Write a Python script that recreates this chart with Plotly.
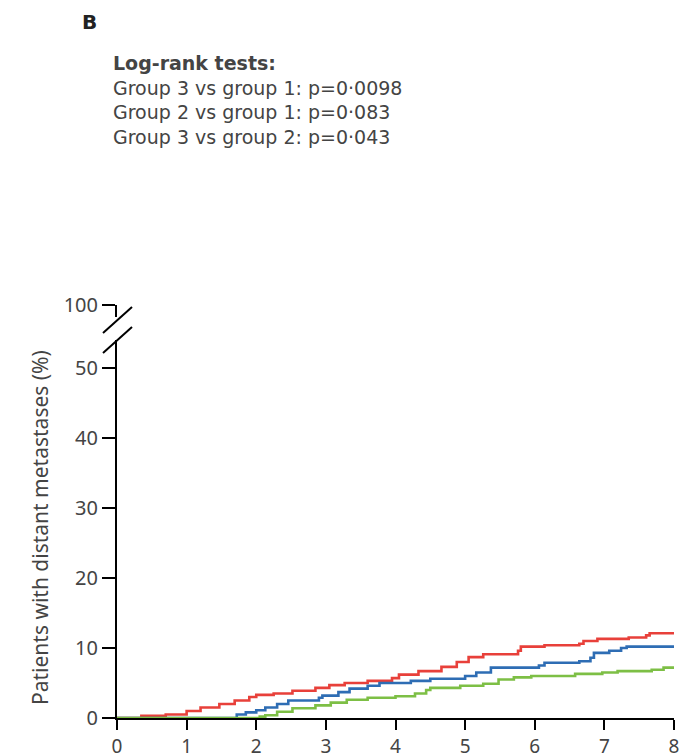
import plotly.graph_objects as go

# ---- data ----
red_t = [0, 0.35, 0.7, 1.0, 1.2, 1.47, 1.69, 1.9, 2.0, 2.25, 2.52, 2.85, 3.05, 3.27, 3.6, 3.95, 4.05,
         4.33, 4.66, 4.88, 5.05, 5.26, 5.76, 5.8, 6.14, 6.64, 6.7, 6.9, 7.35, 7.6, 7.65, 8.0]
red_v = [0, 0.3, 0.5, 1.0, 1.5, 2.0, 2.5, 3.0, 3.3, 3.5, 3.9, 4.3, 4.7, 5.0, 5.3, 5.7, 6.2,
         6.7, 7.3, 8.0, 8.7, 9.1, 9.6, 10.2, 10.4, 10.6, 11.0, 11.3, 11.5, 11.8, 12.1, 12.1]

blue_t = [0, 1.72, 1.85, 2.0, 2.13, 2.3, 2.46, 2.9, 2.95, 3.18, 3.34, 3.6, 3.77, 4.22, 4.5, 5.0,
          5.16, 5.37, 6.06, 6.14, 6.64, 6.8, 6.85, 7.07, 7.24, 7.32, 8.0]
blue_v = [0, 0.5, 0.8, 1.1, 1.5, 2.0, 2.5, 2.9, 3.2, 3.7, 4.2, 4.6, 5.0, 5.3, 5.6, 6.0,
          6.5, 7.2, 7.5, 7.9, 8.1, 8.6, 9.3, 9.6, 10.0, 10.2, 10.2]

green_t = [0, 2.05, 2.13, 2.3, 2.52, 2.85, 3.07, 3.3, 3.6, 4.0, 4.28, 4.44, 4.5, 4.93, 5.26, 5.48,
           5.7, 5.95, 6.58, 6.97, 7.19, 7.68, 7.85, 8.0]
green_v = [0, 0.2, 0.4, 0.9, 1.4, 1.8, 2.2, 2.6, 2.9, 3.1, 3.5, 4.0, 4.3, 4.6, 4.9, 5.5,
           5.8, 6.0, 6.3, 6.5, 6.7, 6.9, 7.2, 7.3]

x_ticks = [0, 1, 2, 3, 4, 5, 6, 7, 8]
y_ticks = [0, 10, 20, 30, 40, 50]
y_top_tick = [100]

panel_label = "B"
test_title = "Log-rank tests:"
test_lines = ["Group 3 vs group 1: p=0·0098",
              "Group 2 vs group 1: p=0·083",
              "Group 3 vs group 2: p=0·043"]
y_title = "Patients with distant metastases (%)"

RED, BLUE, GREEN = "#e8403a", "#2e6db4", "#7dbf45"
TXT = "#444444"
FONT = "Noto Sans"
TFONT = "DejaVu Sans"

# plot area in reference pixels
L, R, T, B = 117, 674, 305, 718
W, H = R - L, B - T
OFF = 8  # page body offset
def px(x):
    return (x - L) / W
def py(y):
    return (B - y) / H

fig = go.Figure()
for t, v, c in [(red_t, red_v, RED), (blue_t, blue_v, BLUE), (green_t, green_v, GREEN)]:
    fig.add_trace(go.Scatter(x=t, y=v, mode="lines", line=dict(color=c, width=2.6, shape="hv"),
                             showlegend=False, hoverinfo="skip", xaxis="x", yaxis="y"))
# invisible trace for upper axis
fig.add_trace(go.Scatter(x=[0], y=[100], mode="markers", marker=dict(opacity=0),
                         showlegend=False, hoverinfo="skip", xaxis="x", yaxis="y2"))

axis_common = dict(showgrid=False, zeroline=False, showline=True, linecolor="black", linewidth=2,
                   ticks="outside", tickcolor="black", tickwidth=2, automargin=False)

fig.update_layout(
    width=700, height=754,
    margin=dict(l=L - OFF, r=700 - R + OFF, t=T - OFF, b=754 - B + OFF, pad=0),
    paper_bgcolor="white", plot_bgcolor="white",
    xaxis=dict(range=[0, 8], tickvals=x_ticks, ticklen=10, anchor="y",
               tickfont=dict(family=FONT, size=19, color=TXT), **axis_common),
    yaxis=dict(range=[0, 54], tickvals=y_ticks, ticklen=13, domain=[0, py(340)], anchor="x",
               tickfont=dict(family=FONT, size=20, color=TXT), **axis_common),
    yaxis2=dict(range=[98.3, 100], tickvals=y_top_tick, ticklen=13, domain=[py(317), 1],
                anchor="x", tickfont=dict(family=FONT, size=20, color=TXT), **axis_common),
)

# axis break slashes
for (x0, y0, x1, y1) in [(103, 333, 132, 307), (103, 353, 132, 327)]:
    fig.add_shape(type="line", xref="paper", yref="paper", x0=px(x0), y0=py(y0), x1=px(x1), y1=py(y1),
                  line=dict(color="black", width=2))

# texts
fig.add_annotation(text="<b>" + panel_label + "</b>", xref="paper", yref="paper", x=px(80), y=py(22),
                   xanchor="left", yanchor="middle", showarrow=False,
                   font=dict(family=TFONT, size=20, color="#222"))
block = "<b>" + test_title + "</b><br>" + "<br>".join(test_lines)
fig.add_annotation(text=block, xref="paper", yref="paper", x=px(111), y=py(99.5),
                   xanchor="left", yanchor="middle", align="left", showarrow=False,
                   font=dict(family=TFONT, size=19, color=TXT))
fig.add_annotation(text=y_title, xref="paper", yref="paper", x=px(40), y=py(528), textangle=-90,
                   xanchor="center", yanchor="middle", showarrow=False,
                   font=dict(family=FONT, size=21, color=TXT))

fig.write_html("out.html")
